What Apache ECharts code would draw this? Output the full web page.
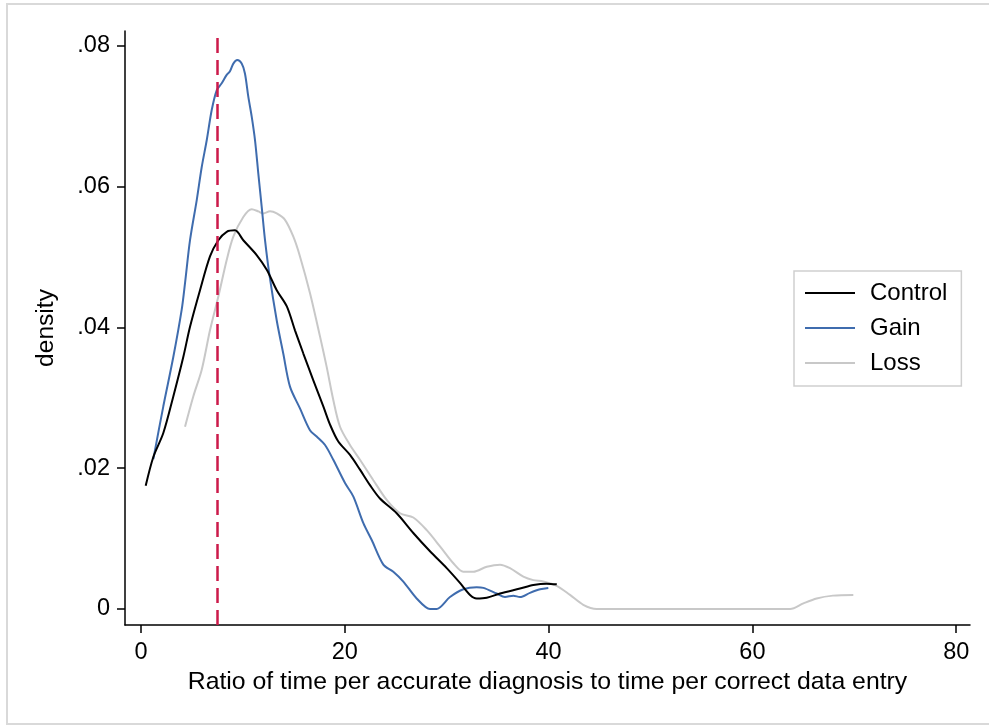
<!DOCTYPE html>
<html>
<head>
<meta charset="utf-8">
<script src="https://cdn.jsdelivr.net/npm/echarts@6/dist/echarts.min.js"></script>
<style>
html,body{margin:0;padding:0;background:#fff;}
#chart{width:989px;height:726px;}
</style>
</head>
<body>
<div id="chart"></div>
<script>
// ---- data ----
const seriesNames = ['Control', 'Gain', 'Loss'];
const controlData = [[0.46,.0175],[1.21,.0216],[2.19,.0250],[3.17,.0302],[4.15,.0358],[4.81,.0401],[5.79,.0453],[6.77,.0501],[7.59,.0524],[8.41,.0536],[9.22,.0538],[10.04,.0524],[11.35,.0503],[12.34,.0482],[13.32,.0453],[14.31,.0430],[15.11,.0396],[15.93,.0363],[16.91,.0325],[17.89,.0288],[18.55,.0262],[19.36,.0238],[20.51,.0219],[21.49,.0198],[22.47,.0176],[23.45,.0157],[25.09,.0136],[26.72,.0108],[28.36,.0082],[30.0,.0058],[31.3,.0037],[32.29,.0020],[32.94,.0015],[33.93,.0016],[35.23,.0022],[37.19,.0029],[38.5,.0034],[39.8,.0036],[40.8,.0035]];
const gainData = [[1.21,.0213],[2.19,.0288],[3.17,.0358],[3.99,.0425],[4.32,.0463],[4.81,.0524],[5.47,.0581],[5.96,.0628],[6.45,.0666],[6.94,.0709],[7.43,.0737],[7.92,.0747],[8.41,.0759],[8.73,.0764],[9.06,.0775],[9.45,.0780],[9.88,.0775],[10.2,.0761],[10.53,.0728],[10.86,.0700],[11.19,.0666],[11.51,.0619],[11.84,.0572],[12.17,.0524],[12.6,.0475],[13.32,.0410],[13.96,.0363],[14.62,.0316],[15.6,.0285],[16.58,.0254],[17.24,.0245],[18.06,.0233],[18.87,.0212],[20.02,.0179],[20.83,.0160],[21.82,.0122],[22.64,.0098],[23.78,.0063],[24.76,.0053],[25.74,.0039],[27.05,.0015],[28.36,0],[29.0,0],[30.32,.0017],[31.63,.0028],[32.94,.0031],[33.6,.0030],[34.9,.0022],[35.72,.0017],[36.54,.0019],[37.19,.0017],[38.17,.0023],[39.16,.0028],[39.97,.0030]];
const lossData = [[4.32,.0259],[5.13,.0302],[5.96,.0340],[6.77,.0396],[7.59,.0444],[8.41,.0496],[9.06,.0529],[10.04,.0557],[10.86,.0568],[11.51,.0565],[12.0,.0562],[12.66,.0565],[13.32,.0562],[14.13,.0553],[14.95,.0529],[15.6,.0501],[16.58,.0449],[17.57,.0387],[18.22,.0344],[18.87,.0297],[19.53,.0259],[20.51,.0233],[21.49,.0212],[22.8,.0183],[24.11,.0155],[25.42,.0136],[26.72,.0130],[28.04,.0112],[29.34,.0089],[30.65,.0065],[31.63,.0053],[32.61,.0053],[33.93,.0060],[35.23,.0063],[36.21,.0058],[37.52,.0046],[38.5,.0041],[39.48,.0039],[40.79,.0033],[42.1,.0020],[43.4,.0006],[44.72,0],[63.7,0],[65.0,.0008],[66.3,.0015],[67.9,.0019],[69.9,.0020]];
const refLineX = 7.5;
const xTicks = [0, 20, 40, 60, 80];
const xTickLabels = ['0', '20', '40', '60', '80'];
const yTicks = [0, 0.02, 0.04, 0.06, 0.08];
const yTickLabels = ['0', '.02', '.04', '.06', '.08'];
const xTitle = 'Ratio of time per accurate diagnosis to time per correct data entry';
const yTitle = 'density';

// ---- chart ----
const FONT = '"Liberation Sans", Arial, sans-serif';
const chart = echarts.init(document.getElementById('chart'), null, {renderer: 'canvas'});
const colors = ['#000000', '#3f6cae', '#c8c8c8'];
const dataSets = [controlData, gainData, lossData];

const series = seriesNames.map((n, i) => ({
  name: n,
  type: 'line',
  data: dataSets[i],
  symbol: 'none',
  smooth: 0.3,
  lineStyle: {color: colors[i], width: 2},
  itemStyle: {color: colors[i]},
  z: 3 - i,
  animation: false
}));
series[0].markLine = {
  silent: true,
  symbol: ['none', 'none'],
  label: {show: false},
  lineStyle: {color: '#cc1a4a', width: 2.5, type: [15, 7]},
  data: [{xAxis: refLineX}],
  animation: false
};

chart.setOption({
  backgroundColor: '#ffffff',
  animation: false,
  textStyle: {fontFamily: FONT},
  graphic: [{
    type: 'rect',
    shape: {x: 7, y: 4, width: 1000, height: 720},
    style: {fill: 'none', stroke: '#d9d9d9', lineWidth: 2},
    silent: true
  }],
  grid: {left: 125, right: 19, top: 31, bottom: 101, containLabel: false},
  legend: {
    orient: 'vertical',
    left: 794, top: 271,
    data: seriesNames,
    icon: 'rect',
    itemWidth: 50, itemHeight: 2, itemGap: 11,
    padding: [10, 14, 11, 11],
    borderColor: '#cfcfcf', borderWidth: 1.5,
    textStyle: {fontFamily: FONT, fontSize: 24, color: '#000', lineHeight: 24, padding: [0, 0, 0, 10]},
    selectedMode: false
  },
  xAxis: {
    type: 'value',
    min: -1.57, max: 81.35,
    splitLine: {show: false},
    axisLine: {show: true, onZero: false, lineStyle: {color: '#000', width: 1.5}},
    axisTick: {show: true, length: 8, lineStyle: {color: '#000', width: 1.5}, customValues: xTicks},
    axisLabel: {
      customValues: xTicks, margin: 16,
      fontFamily: FONT, fontSize: 23.5, color: '#000',
      formatter: v => xTickLabels[xTicks.indexOf(v)]
    },
    name: xTitle, nameLocation: 'middle', nameGap: 43,
    nameTextStyle: {fontFamily: FONT, fontSize: 24.8, color: '#000'}
  },
  yAxis: {
    type: 'value',
    min: -0.002274, max: 0.08213,
    splitLine: {show: false},
    axisLine: {show: true, onZero: false, lineStyle: {color: '#000', width: 1.5}},
    axisTick: {show: true, length: 8, lineStyle: {color: '#000', width: 1.5}, customValues: yTicks},
    axisLabel: {
      customValues: yTicks, margin: 15,
      fontFamily: FONT, fontSize: 23.5, color: '#000',
      formatter: v => { let k = yTicks.findIndex(t => Math.abs(t - v) < 1e-9); return k >= 0 ? yTickLabels[k] : ''; }
    },
    name: yTitle, nameLocation: 'middle', nameGap: 66, nameRotate: 90,
    nameTextStyle: {fontFamily: FONT, fontSize: 24.6, color: '#000'}
  },
  series: series
});
</script>
</body>
</html>
